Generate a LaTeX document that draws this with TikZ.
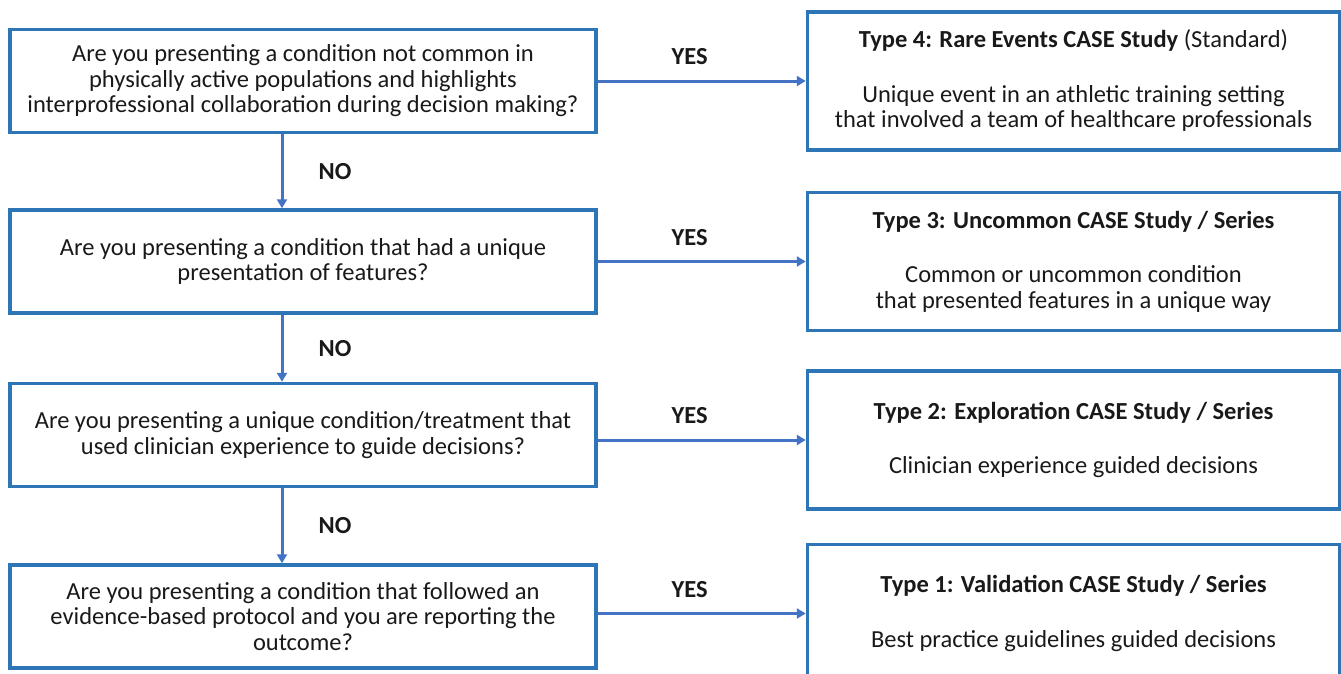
\documentclass[tikz,border=0pt]{standalone}
\usepackage{fontspec}
\setmainfont{Carlito}
\usetikzlibrary{positioning,arrows.meta}

\definecolor{boxblue}{RGB}{46,117,182}
\definecolor{arrowblue}{RGB}{68,114,196}

\tikzset{
  question/.style={draw=boxblue, line width=3.5pt, minimum width=586pt, minimum height=103pt,
    align=center, inner sep=0pt, text=black!90, font=\fontsize{24.5}{25.5}\selectfont},
  casetype/.style={draw=boxblue, line width=3.5pt, minimum width=532pt, minimum height=138pt,
    align=center, inner sep=0pt, text=black!90, font=\fontsize{24.5}{25.5}\selectfont},
  flow/.style={draw=arrowblue, line width=3pt, -{Triangle[length=9pt,width=10pt]}},
  answer/.style={text=black!90, font=\fontsize{24.5}{25.5}\selectfont\bfseries},
}

\begin{document}
\begin{tikzpicture}
        \useasboundingbox (0pt,0pt) rectangle (1341pt,-673pt);
        \node[question] (q1) at (303pt,-81pt) {Are you presenting a condition not common in\\physically active populations and highlights\\interprofessional collaboration during decision making?};
        \node[question, below=74pt of q1] (q2) {Are you presenting a condition that had a unique\\presentation of features?};
        \node[question, below=67pt of q2] (q3) {Are you presenting a unique condition/treatment that\\used clinician experience to guide decisions?};
        \node[question, below=75pt of q3] (q4) {Are you presenting a condition that followed an\\evidence-based protocol and you are reporting the\\outcome?};

        \node[casetype, right=208pt of q1] (t1) {\textbf{Type 4: Rare Events CASE Study} (Standard)\\[29pt]Unique event in an athletic training setting\\that involved a team of healthcare professionals};
        \node[casetype, right=208pt of q2] (t2) {\textbf{Type 3: Uncommon CASE Study / Series}\\[29pt]Common or uncommon condition\\that presented features in a unique way};
        \node[casetype, right=208pt of q3, yshift=-5pt] (t3) {\textbf{Type 2: Exploration CASE Study / Series}\\[29pt]Clinician experience guided decisions};
        \node[casetype, right=208pt of q4, yshift=3pt] (t4) {\textbf{Type 1: Validation CASE Study / Series}\\[29pt]Best practice guidelines guided decisions};

        \draw[flow] (q1.east |- t1.west) -- (t1.west) node[answer, midway, xshift=-12pt, yshift=24pt] {YES};
        \draw[flow] (q2.east |- t2.west) -- (t2.west) node[answer, midway, xshift=-12pt, yshift=24pt] {YES};
        \draw[flow] (q3.east |- t3.west) -- (t3.west) node[answer, midway, xshift=-12pt, yshift=24pt] {YES};
        \draw[flow] (q4.east |- t4.west) -- (t4.west) node[answer, midway, xshift=-12pt, yshift=24pt] {YES};

        \draw[flow] ([xshift=-21pt]q1.south) -- ([xshift=-21pt]q2.north) node[answer, midway, xshift=53pt] {NO};
        \draw[flow] ([xshift=-21pt]q2.south) -- ([xshift=-21pt]q3.north) node[answer, midway, xshift=53pt] {NO};
        \draw[flow] ([xshift=-21pt]q3.south) -- ([xshift=-21pt]q4.north) node[answer, midway, xshift=53pt] {NO};
\end{tikzpicture}
\end{document}
